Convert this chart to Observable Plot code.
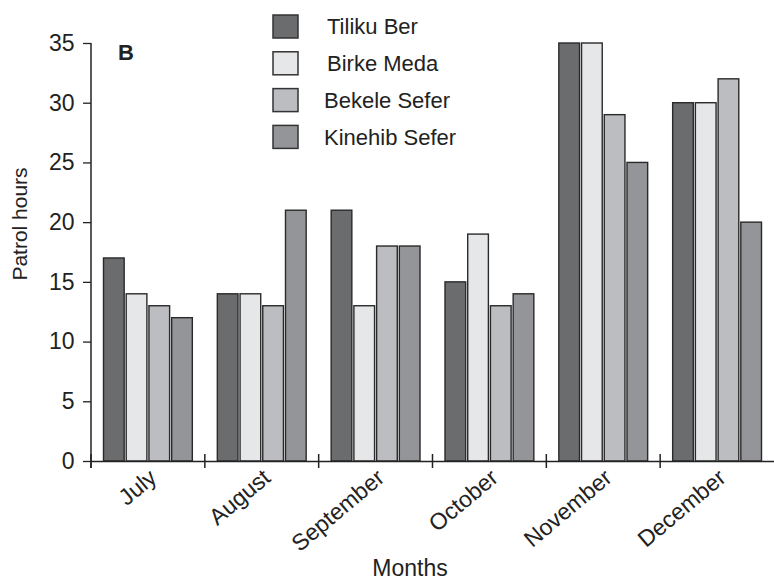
<!DOCTYPE html>
<html><head><meta charset="utf-8">
<script src="https://cdn.jsdelivr.net/npm/d3@7"></script>
<script src="https://cdn.jsdelivr.net/npm/@observablehq/plot@0.6"></script>
<style>
body{margin:0;background:#fff;}
#chart{position:relative;width:774px;height:580px;}
</style></head><body><div id="chart"></div>
<script>
const months = ["July","August","September","October","November","December"];
const sites = ["Tiliku Ber","Birke Meda","Bekele Sefer","Kinehib Sefer"];
const tilikuBer = [17,14,21,15,35,30];
const birkeMeda = [14,14,13,19,35,30];
const bekeleSefer = [13,13,18,13,29,32];
const kinehibSefer = [12,21,18,14,25,20];
const yTicks = [0,5,10,15,20,25,30,35];
const colors = ["#6b6c6e","#e6e7e9","#bcbdc0","#949598"];
const panelLabel = "B";
const xLabel = "Months";
const yLabel = "Patrol hours";

const series = [tilikuBer,birkeMeda,bekeleSefer,kinehibSefer];
const data = months.flatMap((m,i)=>sites.map((s,j)=>({month:m, site:s, hours: series[j][i]})));

const font = "'Liberation Sans', Arial, Helvetica, sans-serif";
const ink = "#222";
const plot = Plot.plot({
  width:774, height:580,
  marginLeft:91, marginRight:0, marginTop:43, marginBottom:119,
  style:{fontFamily:font, fontSize:"22px", color:ink, background:"#fff"},
  fx:{domain:months, padding:0, round:false},
  x:{domain:sites, paddingInner:0.09, paddingOuter:0.55, round:false, axis:null},
  y:{domain:[0,35]},
  color:{domain:sites, range:colors},
  marks:[
    Plot.barY(data,{fx:"month", x:"site", y:"hours", fill:"site", stroke:"#2a2a2a", strokeWidth:1.4}),
    Plot.ruleY([0],{stroke:ink, strokeWidth:1.5}),
    Plot.axisY({ticks:yTicks, tickSize:8, tickPadding:9, label:null, fontSize:23, strokeWidth:1.3}),
    Plot.axisFx({anchor:"bottom", tickSize:0, tickPadding:13, dx:5, tickRotate:-40, label:null, fontSize:23})
  ]
});
document.getElementById("chart").appendChild(plot);

const svg = d3.select(plot);
const y = plot.scale("y"), fx = plot.scale("fx"), color = plot.scale("color");
const left = fx.apply(months[0]);
const y0 = y.apply(0), yTop = y.apply(yTicks[yTicks.length-1]);
const g = svg.append("g").attr("stroke", ink).attr("stroke-width", 1.5);
g.append("line").attr("x1", left).attr("x2", left).attr("y1", y0 + 7).attr("y2", yTop);
months.forEach(m => {
  const xb = fx.apply(m);
  g.append("line").attr("x1", xb).attr("x2", xb).attr("y1", y0 - 7).attr("y2", y0 + 7);
});

const t = svg.append("g").attr("fill", ink).attr("font-family", font);
t.append("text").attr("x", left + 27).attr("y", yTop + 17).attr("font-size", 22).attr("font-weight", "bold").attr("text-anchor", "start").text(panelLabel);
t.append("text").attr("x", 410).attr("y", 576).attr("font-size", 23).attr("text-anchor", "middle").text(xLabel);
t.append("text").attr("transform", `translate(27,224) rotate(-90)`).attr("font-size", 21).attr("text-anchor", "middle").text(yLabel);

const lg = svg.append("g").attr("font-family", font).attr("text-anchor", "start");
sites.forEach((s, i) => {
  const row = lg.append("g").attr("transform", `translate(273,${15 + i * 36.8})`);
  row.append("rect").attr("width", 25).attr("height", 23).attr("fill", color.apply(s)).attr("stroke", "#333").attr("stroke-width", 1.5);
  row.append("text").attr("x", i < 2 ? 54 : 51).attr("y", 11.5).attr("dy", "0.35em").attr("font-size", 22).attr("fill", ink).text(s);
});
</script></body></html>
